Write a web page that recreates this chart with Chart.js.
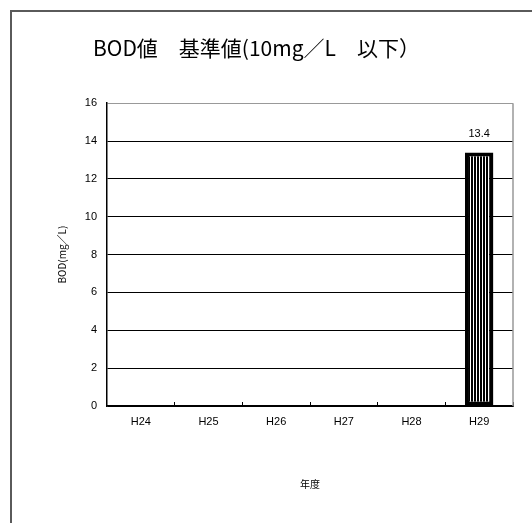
<!DOCTYPE html>
<html>
<head>
<meta charset="utf-8">
<script src="https://cdn.jsdelivr.net/npm/chart.js@4"></script>
<style>
  body { margin: 0; background: #fff; }
  #wrap { width: 532px; height: 523px; }
</style>
</head>
<body>
<div id="wrap"><canvas id="bodChart" width="532" height="523"></canvas></div>
<script>
// Chart data
const years = ["H24", "H25", "H26", "H27", "H28", "H29"];
const bodValues = [null, null, null, null, null, 13.4];
const yTicks = [0, 2, 4, 6, 8, 10, 12, 14, 16];

const chartTitle = "BOD値　基準値(10mg／L　以下）";
const yTitle = "BOD(mg／L)";
const xTitle = "年度";

const labelFont = "'Liberation Sans', 'Noto Sans CJK JP', sans-serif";

// Vertical stripe fill for the bar (2px black, 1px white)
function stripePattern() {
  const c = document.createElement("canvas");
  c.width = 3;
  c.height = 4;
  const g = c.getContext("2d");
  g.fillStyle = "#fff";
  g.fillRect(0, 0, 3, 4);
  g.fillStyle = "#000";
  g.fillRect(0, 0, 2, 4);
  return g.createPattern(c, "repeat");
}

// Outer frame + right border of plot area
const framePlugin = {
  id: "frame",
  beforeDraw(chart) {
    const ctx = chart.ctx;
    ctx.save();
    ctx.fillStyle = "#fff";
    ctx.fillRect(0, 0, chart.width, chart.height);
    ctx.fillStyle = "#5a5a5a";
    ctx.fillRect(10, 10, chart.width, 2);
    ctx.fillRect(10, 10, 2, chart.height);
    ctx.restore();
  },
  afterDraw(chart) {
    const { ctx, chartArea } = chart;
    ctx.save();
    ctx.strokeStyle = "#999";
    ctx.lineWidth = 1.5;
    ctx.beginPath();
    ctx.moveTo(chartArea.right, chartArea.top);
    ctx.lineTo(chartArea.right, chartArea.bottom);
    ctx.stroke();
    ctx.restore();
  },
};

// Value labels above bars
const valueLabels = {
  id: "valueLabels",
  afterDatasetsDraw(chart) {
    const ctx = chart.ctx;
    const meta = chart.getDatasetMeta(0);
    ctx.save();
    ctx.font = "11px " + labelFont;
    ctx.fillStyle = "#000";
    ctx.textAlign = "center";
    ctx.textBaseline = "bottom";
    meta.data.forEach((bar, i) => {
      const v = bodValues[i];
      if (v === null) return;
      ctx.fillText(v.toFixed(1), bar.x, bar.y - 13);
    });
    ctx.restore();
  },
};

const ctx = document.getElementById("bodChart").getContext("2d");
const bodChart = new Chart(ctx, {
  type: "bar",
  data: {
    labels: years,
    datasets: [
      {
        data: bodValues,
        backgroundColor: stripePattern(),
        borderColor: "#000",
        borderWidth: 4,
        borderSkipped: false,
        categoryPercentage: 1,
        barPercentage: 0.42,
      },
    ],
  },
  options: {
    responsive: false,
    animation: false,
    layout: { padding: { left: 0, right: 19, top: 0, bottom: 0 } },
    plugins: {
      legend: { display: false },
      tooltip: { enabled: false },
      title: {
        display: true,
        text: chartTitle,
        color: "#000",
        font: { family: "'Noto Sans CJK JP', sans-serif", size: 21, weight: "normal" },
        padding: { top: 35, bottom: 43 },
      },
    },
    scales: {
      x: {
        grid: {
          display: true,
          drawOnChartArea: false,
          drawTicks: true,
          tickLength: -4,
          color: "#000",
        },
        border: { color: "#000", width: 1.5 },
        ticks: {
          color: "#000",
          padding: 13,
          font: { family: labelFont, size: 11 },
        },
        title: {
          display: true,
          text: xTitle,
          color: "#000",
          font: { family: "'Noto Sans CJK JP', sans-serif", size: 10 },
          padding: { top: 0, bottom: 33 },
        },
        afterFit(scale) {
          scale.height = 117;
        },
      },
      y: {
        min: 0,
        max: 16,
        afterBuildTicks(scale) {
          scale.ticks = yTicks.map((v) => ({ value: v }));
        },
        grid: {
          drawTicks: false,
          color: (c) => (c.tick && c.tick.value === 16 ? "#999" : "#000"),
          lineWidth: 1,
        },
        border: { color: "#000", width: 1.5 },
        ticks: {
          color: "#000",
          padding: 10,
          font: { family: labelFont, size: 11 },
        },
        title: {
          display: true,
          text: yTitle,
          color: "#000",
          font: { family: "'Noto Sans CJK JP', sans-serif", size: 10 },
          padding: { top: 56, bottom: 0 },
        },
        afterFit(scale) {
          scale.width = 107;
        },
      },
    },
  },
  plugins: [framePlugin, valueLabels],
});
</script>
</body>
</html>
